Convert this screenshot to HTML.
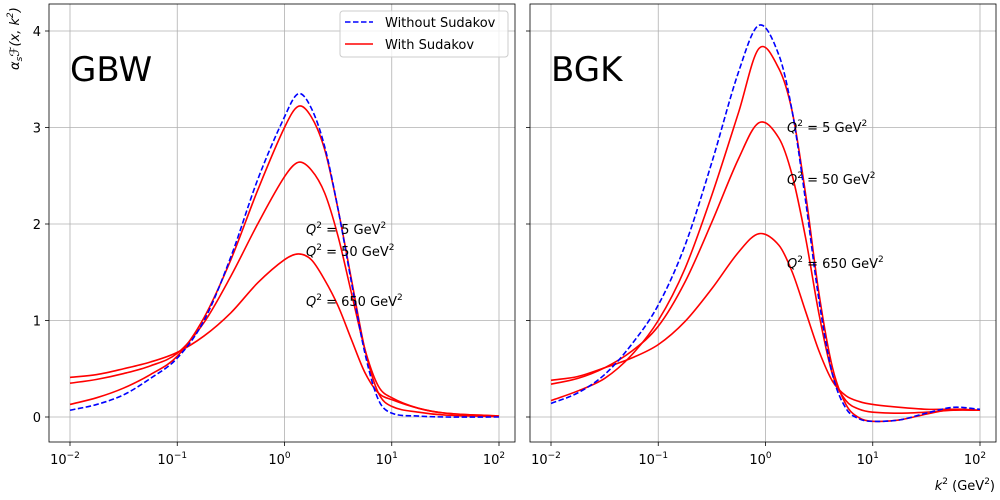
<!DOCTYPE html>
<html><head><meta charset="utf-8"><style>
body{margin:0;background:#fff;}
svg{display:block;font-family:"DejaVu Sans","Liberation Sans",sans-serif;}
</style></head><body>
<svg id="c" width="1000" height="500"></svg>
<script>
const logK = [-2,-1.75,-1.5,-1.25,-1,-0.75,-0.5,-0.25,0,0.13,0.25,0.375,0.5,0.625,0.75,0.875,1,1.25,1.5,2];
const gbwNoSud = [0.07,0.13,0.23,0.4,0.61,1.0,1.66,2.46,3.11,3.35,3.2,2.8,2.15,1.39,0.66,0.18,0.04,0.01,0.0,0.0];
const gbwQ5 = [0.13,0.2,0.3,0.44,0.63,1.03,1.63,2.35,3.0,3.22,3.11,2.77,2.15,1.42,0.7,0.25,0.11,0.05,0.02,0.005];
const gbwQ50 = [0.35,0.39,0.45,0.53,0.66,0.98,1.46,2.0,2.49,2.64,2.56,2.32,1.87,1.28,0.7,0.32,0.2,0.09,0.04,0.01];
const gbwQ650 = [0.41,0.44,0.5,0.57,0.67,0.84,1.08,1.39,1.63,1.69,1.63,1.42,1.15,0.8,0.46,0.25,0.18,0.09,0.04,0.01];
const logKB = [-2,-1.75,-1.5,-1.25,-1,-0.75,-0.5,-0.25,-0.06,0.125,0.25,0.375,0.5,0.625,0.75,0.875,1,1.25,1.5,1.75,2];
const bgkNoSud = [0.14,0.25,0.44,0.75,1.16,1.78,2.64,3.58,4.06,3.75,3.16,2.23,1.2,0.44,0.09,-0.02,-0.045,-0.03,0.04,0.1,0.08];
const bgkQ5 = [0.17,0.27,0.4,0.64,1.0,1.54,2.3,3.16,3.82,3.61,3.16,2.3,1.27,0.51,0.13,-0.01,-0.045,-0.03,0.03,0.08,0.07];
const bgkQ50 = [0.34,0.4,0.51,0.68,0.94,1.4,2.02,2.68,3.05,2.89,2.5,1.85,1.06,0.44,0.17,0.08,0.05,0.04,0.05,0.07,0.07];
const bgkQ650 = [0.38,0.42,0.51,0.61,0.75,0.99,1.33,1.71,1.9,1.78,1.5,1.09,0.68,0.37,0.22,0.16,0.13,0.1,0.08,0.08,0.07];
const yTicks = [0,1,2,3,4];
const xTicks = [-2,-1,0,1,2];

const NS="http://www.w3.org/2000/svg";
const svg=document.getElementById('c');
function el(t,a,p){const e=document.createElementNS(NS,t);for(const k in a)e.setAttribute(k,a[k]);(p||svg).appendChild(e);return e;}
const Y=v=>417-v*96.5;
function smooth(xs,vs,X){
  const n=xs.length, m=[];
  for(let i=0;i<n;i++){
    const a=Math.max(0,i-1), b=Math.min(n-1,i+1);
    m.push((vs[b]-vs[a])/(xs[b]-xs[a]));
  }
  let d='M'+X(xs[0])+','+Y(vs[0]);
  for(let i=0;i<n-1;i++){
    const h=(xs[i+1]-xs[i])/3;
    d+=` C${X(xs[i]+h)},${Y(vs[i]+m[i]*h)} ${X(xs[i+1]-h)},${Y(vs[i+1]-m[i+1]*h)} ${X(xs[i+1])},${Y(vs[i+1])}`;
  }
  return d;
}
function panel(x0,x1,x70,name,title,xs,series,labels,showY){
  const g=el('g',{});
  
  
  const X=l=>x70+(l+2)*107.25;
  xTicks.forEach(t=>{
    const gl=el('line',{x1:X(t),x2:X(t),y1:4,y2:442,stroke:'#b0b0b0','stroke-width':0.8},g);
    
    el('line',{x1:X(t),x2:X(t),y1:442,y2:446,stroke:'#000','stroke-width':0.8},g);
    const tx=el('text',{x:X(t)-5,y:464,'font-size':13,'text-anchor':'middle'},g);
    
    tx.textContent='10';
    const s=el('tspan',{'font-size':9,dy:-6},tx);s.textContent=(t<0?'\u2212':'')+Math.abs(t);
  });
  yTicks.forEach(t=>{
    const gl=el('line',{x1:x0,x2:x1,y1:Y(t),y2:Y(t),stroke:'#b0b0b0','stroke-width':0.8},g);
    
    el('line',{x1:x0-4,x2:x0,y1:Y(t),y2:Y(t),stroke:'#000','stroke-width':0.8},g);
    if(showY){const tx=el('text',{x:x0-8,y:Y(t)+5,'font-size':13,'text-anchor':'end'},g);
      tx.textContent=t;}
  });
  series.forEach(s=>{
    const p=el('path',{d:smooth(xs,s.v,X),fill:'none',stroke:s.c,'stroke-width':1.6,'stroke-dasharray':s.dash?'5.5,2.5':'none'},g);
    
  });
  const fr=el('rect',{x:x0,y:4,width:x1-x0,height:438,fill:'none',stroke:'#000','stroke-width':0.8},g);
  
  const tt=el('text',{x:x70,y:81,'font-size':34},g);
  tt.textContent=title;
  labels.forEach(([lx,ly,q])=>{
    const t=el('text',{x:lx,y:ly,'font-size':13},g);
    
    const a=el('tspan',{'font-style':'italic'},t);a.textContent='Q';
    const b=el('tspan',{'font-size':9,dy:-6},t);b.textContent='2';
    const c=el('tspan',{dy:6},t);c.textContent=' = '+q+' GeV';
    const e=el('tspan',{'font-size':9,dy:-6},t);e.textContent='2';
  });
}
panel(49,515,70,'gbw','GBW',logK,[
 {v:gbwQ650,c:'#ff0000',n:'gbw-q2-650'},{v:gbwQ50,c:'#ff0000',n:'gbw-q2-50'},
 {v:gbwQ5,c:'#ff0000',n:'gbw-q2-5'},{v:gbwNoSud,c:'#0000ff',dash:1,n:'gbw-without-sudakov'}],
 [[306,234,'5'],[306,256,'50'],[306,306,'650']],true);
panel(530,996,551,'bgk','BGK',logKB,[
 {v:bgkQ650,c:'#ff0000',n:'bgk-q2-650'},{v:bgkQ50,c:'#ff0000',n:'bgk-q2-50'},
 {v:bgkQ5,c:'#ff0000',n:'bgk-q2-5'},{v:bgkNoSud,c:'#0000ff',dash:1,n:'bgk-without-sudakov'}],
 [[787,132,'5'],[787,184,'50'],[787,268,'650']],false);
const lg=el('g',{});

el('rect',{x:340,y:11,width:168,height:46,rx:3,fill:'#fff','fill-opacity':0.8,stroke:'#ccc'},lg);
el('line',{x1:345,x2:373,y1:22,y2:22,stroke:'#0000ff','stroke-width':1.6,'stroke-dasharray':'5.5,2.5'},lg);
el('line',{x1:345,x2:373,y1:44,y2:44,stroke:'#ff0000','stroke-width':1.6},lg);
const l1=el('text',{x:385,y:27,'font-size':13},lg);l1.textContent='Without Sudakov';

const l2=el('text',{x:385,y:49,'font-size':13},lg);l2.textContent='With Sudakov';

const yl=el('text',{transform:'translate(19,70) rotate(-90)','font-size':13,'font-style':'italic'});

yl.textContent='\u03b1';const ys=el('tspan',{'font-size':9,dy:3},yl);ys.textContent='s';
const yr=el('tspan',{dy:-3},yl);yr.textContent='\u2131(x, k';const y2=el('tspan',{'font-size':9,dy:-6},yl);y2.textContent='2';
const y3=el('tspan',{dy:6},yl);y3.textContent=')';
const xl=el('text',{x:995,y:490,'font-size':13,'text-anchor':'end'});

const xa=el('tspan',{'font-style':'italic'},xl);xa.textContent='k';
const xb=el('tspan',{'font-size':9,dy:-6},xl);xb.textContent='2';
const xc=el('tspan',{dy:6},xl);xc.textContent=' (GeV';
const xd=el('tspan',{'font-size':9,dy:-6},xl);xd.textContent='2';
const xe=el('tspan',{dy:6},xl);xe.textContent=')';
</script>
</body></html>
